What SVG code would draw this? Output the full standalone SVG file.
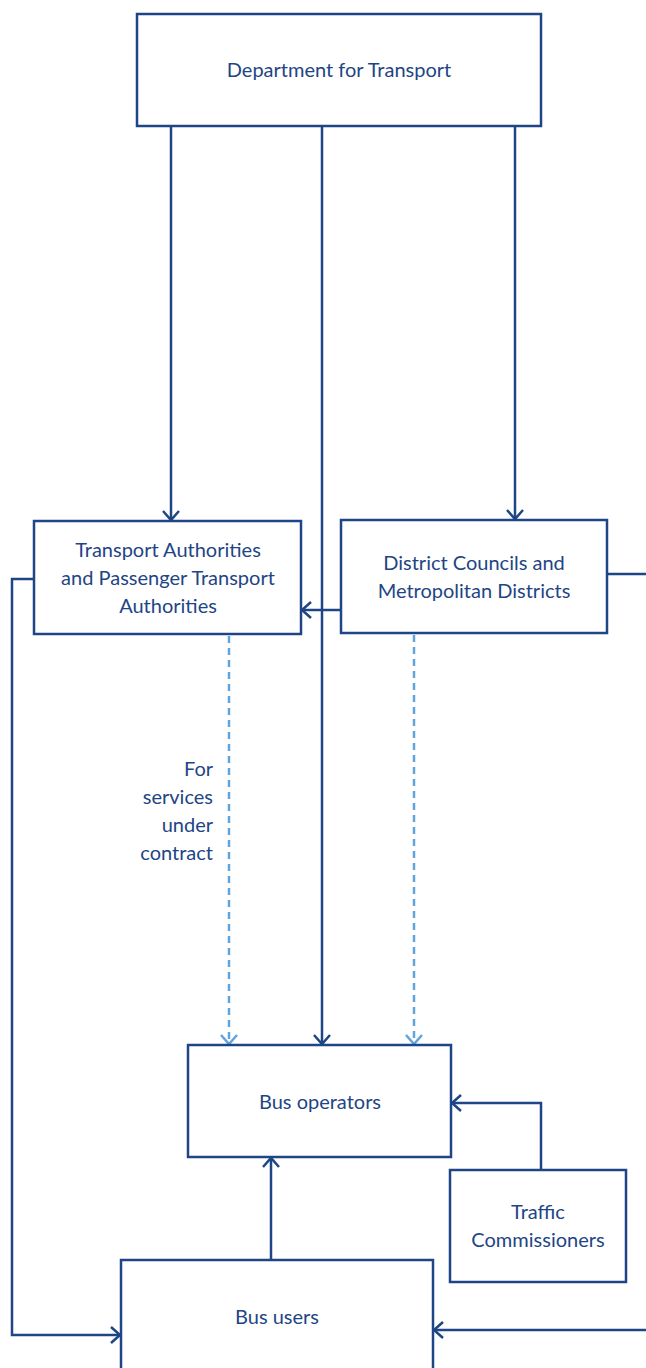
<svg xmlns="http://www.w3.org/2000/svg" width="646" height="1368" viewBox="0 0 646 1368">
<style>
.box{fill:#fff;stroke:#1e4585;stroke-width:2.5}
.ln{fill:none;stroke:#1e4585;stroke-width:2.5}
.dl{fill:none;stroke:#62a4de;stroke-width:2.5;stroke-dasharray:7,5}
text{font-family:Lato,"Liberation Sans",sans-serif;font-size:20px;fill:#1e4585;text-anchor:middle}
</style>
<defs>
<marker id="a" viewBox="-10 -10 20 20" markerWidth="20" markerHeight="20" markerUnits="userSpaceOnUse" orient="auto" refX="0" refY="0">
<path d="M-9,-8 L0,0 L-9,8" fill="none" stroke="#1e4585" stroke-width="2.5"/>
</marker>
<marker id="b" viewBox="-10 -10 20 20" markerWidth="20" markerHeight="20" markerUnits="userSpaceOnUse" orient="auto" refX="0" refY="0">
<path d="M-9,-8 L0,0 L-9,8" fill="none" stroke="#62a4de" stroke-width="2.5"/>
</marker>
</defs>
<g id="connectors">
<line class="ln" x1="171" y1="126" x2="171" y2="520" marker-end="url(#a)"/>
<line class="ln" x1="322" y1="126" x2="322" y2="1044" marker-end="url(#a)"/>
<line class="ln" x1="515" y1="126" x2="515" y2="519" marker-end="url(#a)"/>
<line class="ln" x1="341" y1="610" x2="302" y2="610" marker-end="url(#a)"/>
<line class="ln" x1="607" y1="574" x2="646" y2="574"/>
<polyline class="ln" points="34,579 12,579 12,1335 120,1335" marker-end="url(#a)"/>
<line class="dl" x1="229" y1="636" x2="229" y2="1044" marker-end="url(#b)"/>
<line class="dl" x1="414" y1="635" x2="414" y2="1044" marker-end="url(#b)"/>
<polyline class="ln" points="541,1170 541,1103 452,1103" marker-end="url(#a)"/>
<line class="ln" x1="271" y1="1260" x2="271" y2="1158" marker-end="url(#a)"/>
<line class="ln" x1="646" y1="1330" x2="434" y2="1330" marker-end="url(#a)"/>
<text x="213" y="776" style="text-anchor:end">For</text>
<text x="213" y="804" style="text-anchor:end">services</text>
<text x="213" y="832" style="text-anchor:end">under</text>
<text x="213" y="860" style="text-anchor:end">contract</text>
</g>
<g id="dft">
<rect class="box" x="137" y="14" width="404" height="112"/>
<text x="339" y="77">Department for Transport</text>
</g>
<g id="ta">
<rect class="box" x="34" y="521" width="267" height="113"/>
<text x="168" y="557">Transport Authorities</text>
<text x="168" y="585">and Passenger Transport</text>
<text x="168" y="613">Authorities</text>
</g>
<g id="dc">
<rect class="box" x="341" y="520" width="266" height="113"/>
<text x="474" y="570">District Councils and</text>
<text x="474" y="598">Metropolitan Districts</text>
</g>
<g id="ops">
<rect class="box" x="188" y="1045" width="263" height="112"/>
<text x="320" y="1109">Bus operators</text>
</g>
<g id="tc">
<rect class="box" x="450" y="1170" width="176" height="112"/>
<text x="538" y="1219">Traffic</text>
<text x="538" y="1247">Commissioners</text>
</g>
<g id="users">
<rect class="box" x="121" y="1260" width="312" height="120"/>
<text x="277" y="1324">Bus users</text>
</g>
</svg>
